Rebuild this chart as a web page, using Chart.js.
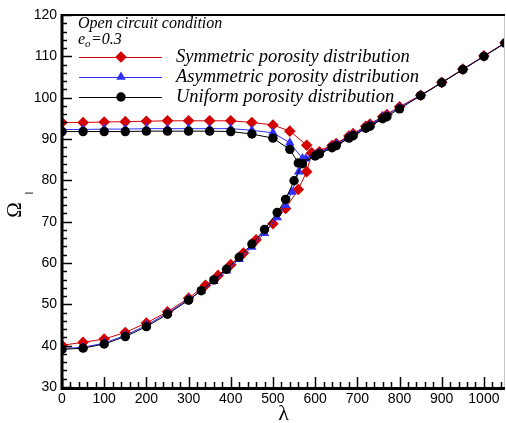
<!DOCTYPE html>
<html>
<head>
<meta charset="utf-8">
<script src="https://cdn.jsdelivr.net/npm/chart.js@4.4.0/dist/chart.umd.min.js"></script>
<style>
  html,body{margin:0;padding:0;background:#fff;}
  #wrap{width:506px;height:423px;position:relative;}
</style>
</head>
<body>
<div id="wrap"><canvas id="chart" width="506" height="423"></canvas></div>
<script>
// lambda values and Omega_I values, two branches per porosity distribution
const lamBlackUp = [0,50,100,150,200,250,300,350,400,450,500,540,560,610,650,690,730,770];
const omBlackUp  = [91.8,91.8,91.8,91.8,91.9,91.9,91.9,91.9,91.8,91.2,90.2,87.5,84.2,86.4,88.4,90.8,93.1,95.4];
const lamBlackLow = [0,50,100,150,200,250,300,330,360,390,420,450,480,510,530,550,570,600,640,680,720,760,800,850,900,950,1000,1050];
const omBlackLow  = [39.1,39.4,40.4,42.2,44.6,47.6,51.0,53.3,55.9,58.5,61.4,64.6,68.1,72.2,75.4,79.9,84.0,85.9,87.9,90.2,92.6,94.9,97.3,100.5,103.6,106.8,110.0,113.2];

const lamBlueUp = [0,50,100,150,200,250,300,350,400,450,500,540,570,610,650,690,730,770];
const omBlueUp  = [92.3,92.3,92.4,92.4,92.5,92.5,92.5,92.5,92.5,92.1,91.5,89.1,85.3,86.7,88.7,91.1,93.4,95.7];
const lamBlueLow = [0,50,100,150,200,250,300,330,360,390,420,450,480,510,530,545,561,578,600,640,680,720,760,800,850,900,950,1000,1050];
const omBlueLow  = [39.3,39.6,40.6,42.5,44.9,47.9,51.2,53.2,55.6,58.1,60.9,63.9,67.2,71.0,74.0,77.2,82.1,85.3,86.2,88.2,90.5,92.9,95.2,97.6,100.5,103.6,106.8,110.0,113.2];

const lamRedUp = [0,50,100,150,200,250,300,350,400,450,500,540,580,592,610,650,690,730,770];
const omRedUp  = [94.0,94.0,94.1,94.2,94.3,94.4,94.4,94.4,94.4,94.0,93.4,91.9,88.5,86.6,86.9,88.9,91.3,93.6,95.9];
const lamRedLow = [0,50,100,150,200,250,300,340,370,400,430,460,500,530,560,580,592,640,680,720,760,800,850,900,950,1000,1050];
const omRedLow  = [40.1,40.8,41.6,43.2,45.5,48.2,51.5,54.6,57.0,59.6,62.4,65.6,69.5,73.2,77.8,82.1,86.6,88.4,90.7,93.1,95.4,97.8,100.6,103.7,106.9,110.1,113.3];

const xTicks = [0,100,200,300,400,500,600,700,800,900,1000];
const yTicks = [30,40,50,60,70,80,90,100,110,120];
const legendLabels = ['Symmetric porosity distribution','Asymmetric porosity distribution','Uniform porosity distribution'];

const RED = '#d40000', BLUE = '#2f2fff', BLACK = '#000';

function pts(xs, ys){ return xs.map((x,i)=>({x:x, y:ys[i]})); }
function ds(xs, ys, color, style, r){
  return {data:pts(xs,ys), borderColor:color, backgroundColor:color, borderWidth:1,
          pointStyle:style, pointRadius:r, pointBorderWidth:0, pointHoverRadius:r, tension:0};
}

const datasets = [
  ds(lamBlackUp, omBlackUp, BLACK, 'circle', 4.7),
  ds(lamBlackLow, omBlackLow, BLACK, 'circle', 4.7),
  ds(lamBlueUp, omBlueUp, BLUE, 'triangle', 5.5),
  ds(lamBlueLow, omBlueLow, BLUE, 'triangle', 5.5),
  ds(lamRedUp, omRedUp, RED, 'rectRot', 5.8),
  ds(lamRedLow, omRedLow, RED, 'rectRot', 5.8)
];

// inward ticks, frame, legend and axis titles
const decor = {
  id:'decor',
  afterDraw(chart){
    const ctx = chart.ctx, a = chart.chartArea;
    const xs = chart.scales.x, ys = chart.scales.y;
    ctx.save();
    // frame
    ctx.strokeStyle = '#c8c8c8'; ctx.lineWidth = 1;
    ctx.beginPath(); ctx.moveTo(a.right-0.5, a.top); ctx.lineTo(a.right-0.5, a.bottom); ctx.stroke();
    ctx.strokeStyle = '#000'; ctx.lineWidth = 2;
    ctx.beginPath(); ctx.moveTo(a.left, a.top); ctx.lineTo(a.right, a.top); ctx.stroke();
    ctx.lineWidth = 3;
    ctx.beginPath(); ctx.moveTo(a.left, a.top-1); ctx.lineTo(a.left, a.bottom+1.5); ctx.lineTo(a.right, a.bottom+1.5); ctx.stroke();
    // ticks
    ctx.lineWidth = 1.5;
    for(let v=30; v<=120; v+=2){
      const y = Math.round(ys.getPixelForValue(v))+0.5;
      const len = (v%10===0)?10:5;
      ctx.beginPath(); ctx.moveTo(a.left, y); ctx.lineTo(a.left+len, y); ctx.stroke();
    }
    for(let v=0; v<=1050; v+=20){
      const x = Math.round(xs.getPixelForValue(v))+0.5;
      const len = (v%100===0)?10:5;
      ctx.beginPath(); ctx.moveTo(x, a.bottom); ctx.lineTo(x, a.bottom-len); ctx.stroke();
    }
    // legend
    ctx.fillStyle = '#000';
    ctx.textBaseline = 'alphabetic';
    ctx.font = 'italic 16px "Liberation Serif"';
    ctx.fillText('Open circuit condition', 78, 28);
    ctx.fillText('e', 78, 44);
    ctx.font = 'italic 11px "Liberation Serif"';
    ctx.fillText('o', 85, 47);
    ctx.font = 'italic 16px "Liberation Serif"';
    ctx.fillText('=0.3', 91, 44);
    const rows = [[4,57],[2,77],[0,97]];
    ctx.font = 'italic 18.5px "Liberation Serif"';
    rows.forEach((r,i)=>{
      const d = chart.data.datasets[r[0]];
      ctx.strokeStyle = d.borderColor; ctx.lineWidth = 1;
      ctx.beginPath(); ctx.moveTo(79, r[1]+0.5); ctx.lineTo(162, r[1]+0.5); ctx.stroke();
      ctx.fillStyle = d.backgroundColor;
      Chart.helpers.drawPoint(ctx, {pointStyle:d.pointStyle, radius:d.pointRadius, borderWidth:0}, 121, r[1]);
      ctx.fillStyle = '#000';
      ctx.fillText(legendLabels[i], 176, r[1]+5);
    });
    // axis titles
    ctx.font = '22px "Liberation Serif"';
    ctx.textAlign = 'center';
    ctx.fillText('\u03bb', (a.left+a.right)/2, 420);
    ctx.translate(21, 210);
    ctx.rotate(-Math.PI/2);
    ctx.font = '21px "Liberation Serif"';
    ctx.fillText('\u03a9', 0, 0);
    ctx.font = '10px "Liberation Sans"';
    ctx.fillText('I', 17, 12);
    ctx.restore();
  }
};

new Chart(document.getElementById('chart'), {
  type:'line',
  data:{datasets},
  options:{
    responsive:false, animation:false,
    layout:{autoPadding:false, padding:{top:15, right:1, left:0, bottom:0}},
    plugins:{legend:{display:false}, tooltip:{enabled:false}},
    scales:{
      x:{type:'linear', min:0, max:1050,
         afterBuildTicks:s=>{ s.ticks = xTicks.map(v=>({value:v})); },
         afterFit:s=>{ s.height = 36; s.paddingLeft = 0; s.paddingRight = 0; },
         grid:{display:false, drawTicks:false},
         border:{display:false},
         ticks:{color:'#000', font:{family:'Liberation Sans', size:14}, padding:4, maxRotation:0,
                callback:v=>String(v)}},
      y:{type:'linear', min:30, max:120,
         afterBuildTicks:s=>{ s.ticks = yTicks.map(v=>({value:v})); },
         afterFit:s=>{ s.width = 62; s.paddingTop = 0; s.paddingBottom = 0; },
         grid:{display:false, drawTicks:false},
         border:{display:false},
         ticks:{color:'#000', font:{family:'Liberation Sans', size:14}, padding:5,
                callback:v=>String(v)}}
    }
  },
  plugins:[decor]
});
</script>
</body>
</html>
